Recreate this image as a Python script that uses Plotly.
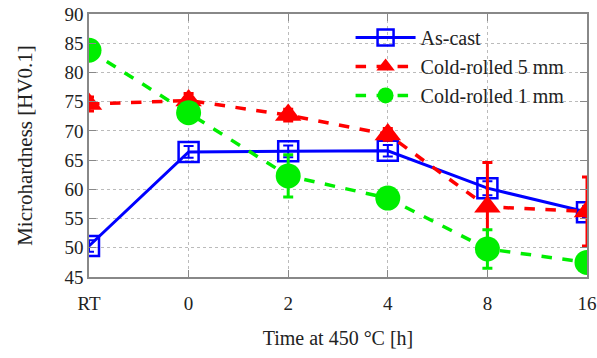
import plotly.graph_objects as go

categories = ["RT", "0", "2", "4", "8", "16"]
as_cast = [50.3, 66.4, 66.5, 66.6, 60.2, 56.1]
as_cast_err = [1.0, 1.0, 1.0, 1.0, 1.2, 1.0]
cr5 = [74.6, 75.2, 72.7, 69.4, 57.0, 56.2]
cr5_err = [1.2, 1.2, 1.0, 1.0, 7.6, 5.9]
cr1 = [83.8, 73.1, 62.3, 58.5, 49.8, 47.5]
cr1_err = [1.0, 1.0, 3.6, 1.0, 3.3, 1.0]

font = "Liberation Serif"

fig = go.Figure()
fig.add_trace(go.Scatter(
    x=categories, y=as_cast, name="As-cast", mode="lines+markers",
    line=dict(color="#0000ff", width=3),
    marker=dict(symbol="square-open", size=20, color="#0000ff", line=dict(width=2.5)),
    error_y=dict(type="data", array=as_cast_err, color="#0000ff", thickness=2, width=5),
))
fig.add_trace(go.Scatter(
    x=categories, y=cr5, name="Cold-rolled 5 mm", mode="lines+markers",
    line=dict(color="#ff0000", width=3.5, dash="dash"),
    marker=dict(symbol="triangle-up", size=23, color="#ff0000"),
    error_y=dict(type="data", array=cr5_err, color="#ff0000", thickness=3, width=5),
))
fig.add_trace(go.Scatter(
    x=categories, y=cr1, name="Cold-rolled 1 mm", mode="lines+markers",
    line=dict(color="#00ee00", width=3.5, dash="dash"),
    marker=dict(symbol="circle", size=25, color="#00ee00"),
    error_y=dict(type="data", array=cr1_err, color="#00ee00", thickness=3, width=5),
))

axis_common = dict(
    showline=True, linecolor="#888888", linewidth=1.5, mirror="ticks",
    ticks="inside", ticklen=7, tickcolor="#888888",
    showgrid=True, gridcolor="#bbbbbb", griddash="dot", gridwidth=1,
    zeroline=False, automargin=False,
    tickfont=dict(family=font, size=19, color="#222222"),
)

fig.update_layout(
    width=597, height=358,
    margin=dict(l=89, r=10, t=14, b=81),
    paper_bgcolor="white", plot_bgcolor="white",
    font=dict(family=font, color="#222222"),
    xaxis=dict(axis_common, type="category", range=[0, 5], ticklabelstandoff=8,
               title=dict(text="Time at 450 °C [h]", font=dict(family=font, size=20), standoff=18)),
    yaxis=dict(axis_common, range=[45, 90], dtick=5,
               title=dict(text="Microhardness [HV0.1]", font=dict(family=font, size=21), standoff=26)),
    legend=dict(x=0.965, y=0.985, xanchor="right", yanchor="top",
                bgcolor="rgba(255,255,255,0)", font=dict(family=font, size=20, color="#222222"),
                tracegroupgap=0, itemwidth=60),
    showlegend=True,
)

fig.write_html("out.html", config={"displayModeBar": False},
               post_script="document.body.style.margin='0px';")
